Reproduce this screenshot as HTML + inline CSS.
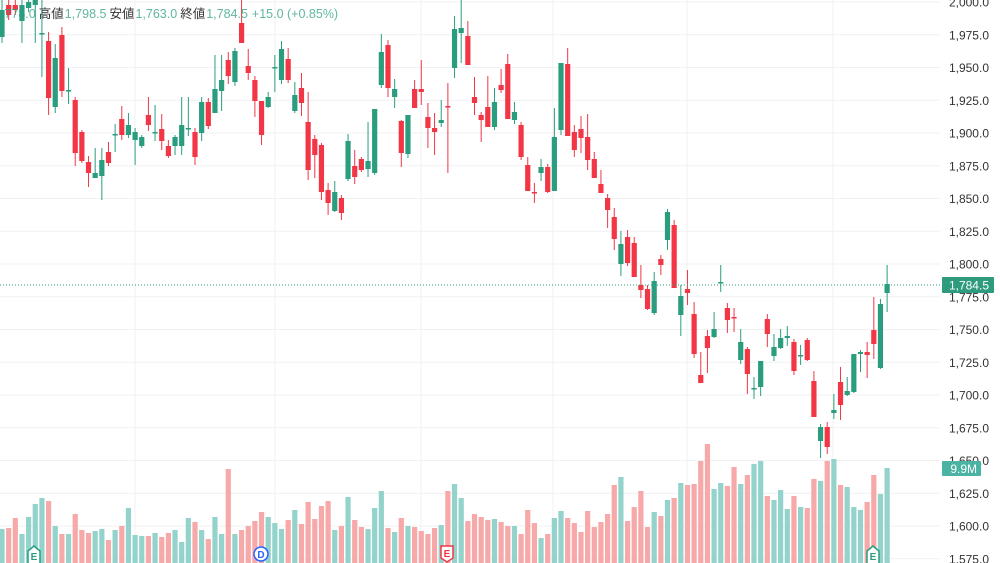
<!DOCTYPE html>
<html><head><meta charset="utf-8"><style>
html,body{margin:0;padding:0;background:#fff;width:1000px;height:563px;overflow:hidden}
svg{display:block}
text{font-family:"Liberation Sans","Noto Sans CJK JP",sans-serif}
</style></head><body>
<svg id="s" width="1000" height="563" xmlns="http://www.w3.org/2000/svg"></svg>
<script>
var s=document.getElementById('s');var h='';
var R='#f23645',G='#2a9d7f',VR='#f7a8a8',VG='#93d3cb';
var labels=['2,000.0','1,975.0','1,950.0','1,925.0','1,900.0','1,875.0','1,850.0','1,825.0','1,800.0','1,775.0','1,750.0','1,725.0','1,700.0','1,675.0','1,650.0','1,625.0','1,600.0','1,575.0'];
for(var k=0;k<labels.length;k++){var y=2+k*32.75;h+='<line x1="0" x2="940" y1="'+y+'" y2="'+y+'" stroke="#f0f1f3" stroke-width="1"/>';}
[135,275,421,553,687,833].forEach(function(x){h+='<line x1="'+x+'" x2="'+x+'" y1="0" y2="563" stroke="#f0f1f3"/>';});
var vol=[529,528,518,534,517,504,498,501,526,534,534,514,530,533,531,529,540,530,526,508,535,536,536,533,537,533,530,542,518,522,530,539,517,534,469,534,530,526,521,512,517,523,529,520,510,524,502,519,506,501,530,526,497,520,527,529,508,491,528,532,518,526,527,531,534,528,525,491,484,498,521,514,517,520,519,522,526,526,534,510,523,538,534,518,511,518,523,532,511,527,522,514,485,477,521,507,491,527,512,516,500,498,483,485,484,461,444,489,483,486,467,484,475,464,461,496,500,490,509,496,507,508,479,481,461,459,471,485,507,487,510,502,475,494,468];
vol[128]=507;vol[129]=510;vol[130]=502;vol[131]=475;vol[132]=494;vol[133]=468;vol[127]=487;vol[126]=485;
var c=[['g',10,37,0,43],['r',5,15,0,20],['r',5,10,0,15],['g',5,21,0,43],['g',2,8,0,12],['g',0,5,0,43],['g',33,34,0,77],['r',41,98,32,115],['g',58,107,44,113],['r',35,91,27,97],['g',90,91,68,104],['r',100,153,97,166],['r',132,161,130,163],['r',162,173,156,187],['g',173,178,148,178],['g',160,176,148,200],['r',152,163,142,166],['g',134,135,124,152],['r',119,135,106,140],['g',125,135,113,138],['g',132,140,128,165],['g',137,146,135,148],['r',115,125,97,131],['g',132,133,105,141],['r',129,141,114,150],['r',146,156,140,158],['g',137,146,135,155],['g',125,146,97,155],['g',128,129,97,136],['r',132,157,128,165],['g',102,133,97,141],['r',102,126,98,129],['g',89,113,55,113],['g',80,91,55,111],['r',60,76,52,84],['g',51,82,48,86],['r',23,43,0,43],['r',66,73,49,80],['r',80,101,76,117],['r',101,135,101,145],['g',97,107,92,108],['g',67,68,55,92],['g',49,80,41,84],['r',59,80,48,83],['g',95,111,82,113],['r',88,103,73,116],['r',122,170,92,180],['r',139,155,135,178],['r',145,192,143,200],['r',190,203,183,215],['g',192,211,181,212],['r',198,213,195,220],['g',141,179,134,181],['r',166,177,150,184],['r',159,170,157,172],['g',161,169,122,177],['g',109,173,109,175],['g',52,85,34,88],['r',45,88,40,97],['g',89,97,79,108],['r',121,153,120,167],['g',115,154,115,158],['r',89,108,80,108],['r',89,92,60,105],['r',117,128,103,148],['r',128,132,113,155],['g',120,123,100,127],['r',106,107,83,173],['g',29,68,16,78],['g',28,33,0,63],['r',36,65,21,65],['r',97,103,77,115],['r',115,120,112,142],['r',107,127,76,127],['g',102,127,88,130],['r',85,90,69,93],['r',64,119,54,119],['g',112,120,102,124],['r',125,157,122,160],['r',165,191,157,191],['r',192,193,183,203],['g',167,173,159,181],['r',167,192,164,193],['g',137,191,108,191],['g',63,130,63,135],['r',64,136,48,136],['r',132,150,125,157],['r',129,138,116,153],['r',137,160,114,170],['r',159,178,152,178],['r',184,193,170,193],['r',198,210,194,228],['r',217,239,208,250],['g',244,264,231,276],['r',237,263,230,266],['r',243,277,237,277],['r',285,290,265,298],['r',289,309,285,310],['g',281,313,272,315],['r',259,265,255,275],['g',212,240,209,250],['r',225,288,220,288],['g',296,315,285,336],['r',289,293,270,305],['r',314,354,302,358],['r',375,383,352,383],['r',336,348,330,373],['g',329,337,312,338],['g',282,283,265,292],['r',308,320,303,333],['r',317,318,308,332],['g',342,360,329,364],['r',349,374,347,394],['g',388,389,377,399],['g',361,387,361,396],['r',319,334,314,347],['g',347,356,334,361],['g',338,348,329,349],['g',336,338,326,346],['r',342,371,339,375],['g',355,356,345,365],['r',340,360,338,361],['r',381,417,371,417],['g',427,441,424,458],['r',427,447,422,454],['g',410,413,394,419],['r',382,405,367,420],['g',391,395,377,396],['g',354,392,354,393],['g',352,354,350,372],['r',352,355,342,378],['r',330,344,297,359],['g',304,368,299,369],['g',284,293,265,312]];
for(var i=0;i<c.length;i++){var x=2+i*6.655;var col=c[i][0]=='r'?VR:VG;var t=vol[i]||530;
h+='<rect x="'+(x-2.6).toFixed(2)+'" y="'+t+'" width="5.2" height="'+(563-t)+'" fill="'+col+'"/>';}
for(var i=0;i<c.length;i++){var x=2+i*6.655;var d=c[i];var col=d[0]=='r'?R:G;
h+='<line x1="'+x.toFixed(2)+'" x2="'+x.toFixed(2)+'" y1="'+d[3]+'" y2="'+d[4]+'" stroke="'+col+'" stroke-width="1"/>';
var bh=Math.max(1.5,d[2]-d[1]);h+='<rect x="'+(x-2.6).toFixed(2)+'" y="'+d[1]+'" width="5.2" height="'+bh+'" fill="'+col+'"/>';}
h+='<line x1="0" x2="940" y1="285" y2="285" stroke="#2a9d7f" stroke-width="1" stroke-dasharray="1,2"/>';
for(var k=0;k<labels.length;k++){var y=2+k*32.75;h+='<text x="989" y="'+(y+4.5)+'" font-size="12" fill="#333" text-anchor="end">'+labels[k]+'</text>';}
h+='<rect x="942" y="277" width="52" height="16" rx="1" fill="#2e9a7e"/><text x="989" y="289.5" font-size="12" fill="#fff" text-anchor="end">1,784.5</text>';
h+='<rect x="942" y="461" width="39" height="15" rx="1" fill="#4bb3a3"/><text x="977" y="473" font-size="12" fill="#fff" text-anchor="end">9.9M</text>';
function house(x,col,l){return '<path d="M'+(x-6)+',563 L'+(x-6)+',551 L'+x+',546 L'+(x+6)+',551 L'+(x+6)+',563" fill="#fff" stroke="'+col+'" stroke-width="1.5"/><text x="'+x+'" y="560" font-size="10" font-weight="bold" fill="'+col+'" text-anchor="middle">'+l+'</text>';}
h+=house(34,'#2a9d7f','E');h+=house(873,'#2a9d7f','E');
h+='<path d="M441,546 L453,546 L453,558 L447,562 L441,558 Z" fill="#fff" stroke="#f23645" stroke-width="1.5"/><text x="447" y="557" font-size="10" font-weight="bold" fill="#f23645" text-anchor="middle">E</text>';
h+='<circle cx="261" cy="554" r="7" fill="#fff" stroke="#2962ff" stroke-width="1.5"/><text x="261" y="558" font-size="10" font-weight="bold" fill="#2962ff" text-anchor="middle">D</text>';
h+='<text x="-6" y="18" font-size="12.5"><tspan fill="#2a9d7f" fill-opacity="0.75">1,778.0</tspan><tspan fill="#333" dx="3">高値</tspan><tspan fill="#2a9d7f" fill-opacity="0.75" dx="1">1,798.5</tspan><tspan fill="#333" dx="3">安値</tspan><tspan fill="#2a9d7f" fill-opacity="0.75" dx="1">1,763.0</tspan><tspan fill="#333" dx="3">終値</tspan><tspan fill="#2a9d7f" fill-opacity="0.75" dx="1">1,784.5</tspan><tspan fill="#2a9d7f" fill-opacity="0.75" dx="4">+15.0 (+0.85%)</tspan></text>';
s.innerHTML=h;
</script>
</body></html>
